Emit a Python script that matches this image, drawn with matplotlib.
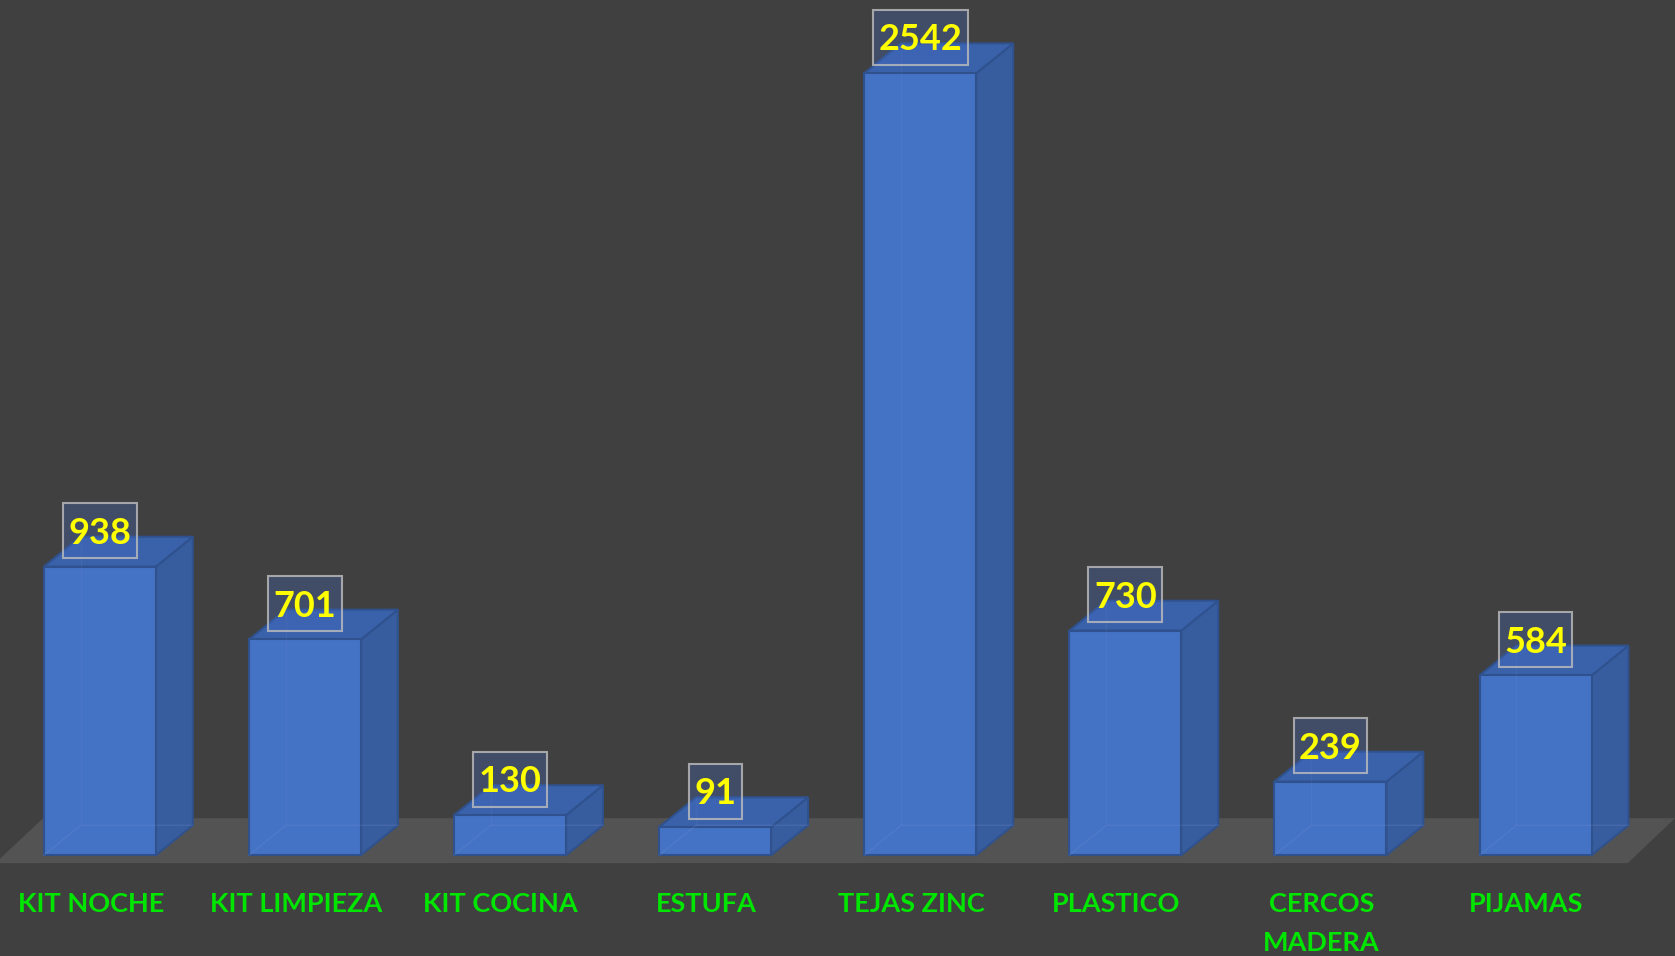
import numpy as np
import matplotlib
matplotlib.use("Agg")
import matplotlib.pyplot as plt
from matplotlib.patches import Polygon, Rectangle
from matplotlib.transforms import IdentityTransform

plt.rcParams['font.family'] = ['Lato', 'DejaVu Sans']

categories = ['KIT NOCHE', 'KIT LIMPIEZA', 'KIT COCINA', 'ESTUFA',
              'TEJAS ZINC', 'PLASTICO', 'CERCOS\nMADERA', 'PIJAMAS']
values = [938, 701, 130, 91, 2542, 730, 239, 584]

BG = '#404040'
FLOOR = '#535353'
FRONT = '#4472C4'
SIDE = '#385D9E'
TOP = '#3A62AB'
EDGE = '#2F528F'

# bar geometry (index units / data units)
width = 0.546
dx, dy = 0.18, 97


def draw_bar3d(ax, x, v):
    xl, xr = x - width / 2, x + width / 2
    # faint hidden edges (bars are a bit see-through)
    ax.plot([xl, xl + dx, xr + dx], [0, dy, dy], color='#7f9fdc', lw=1, alpha=0.18, zorder=4)
    ax.plot([xl + dx, xl + dx], [dy, v + dy], color='#7f9fdc', lw=1, alpha=0.1, zorder=4)
    side = Polygon([(xr, 0), (xr + dx, dy), (xr + dx, v + dy), (xr, v)],
                   closed=True, facecolor=SIDE, edgecolor=EDGE, lw=1.5, zorder=2)
    top = Polygon([(xl, v), (xr, v), (xr + dx, v + dy), (xl + dx, v + dy)],
                  closed=True, facecolor=TOP, edgecolor=EDGE, lw=1.5, zorder=2)
    ax.add_patch(side)
    ax.add_patch(top)


fig = plt.figure(figsize=(16.75, 9.56), dpi=100, facecolor=BG)
ax = fig.add_axes([0, 0, 1, 1])
ax.set_facecolor(BG)
ax.set_xlim(-0.487, 7.68)
ax.set_ylim(-328, 2780)
ax.axis('off')

# floor
floor = Polygon([(-0.51, -26), (7.45, -26), (7.68, 120), (-0.277, 120)],
                closed=True, facecolor=FLOOR, edgecolor='none', zorder=1)
ax.add_patch(floor)

x = np.arange(len(categories))
ax.bar(x, values, width=width, color=FRONT, edgecolor=EDGE, linewidth=1.5, zorder=3)

labels = []
for xi, v, name in zip(x, values, categories):
    draw_bar3d(ax, xi, v)
    # baseline placed so the digits sit centred in the label box
    t = ax.text(xi, v + 74, str(v), ha='center', va='baseline', fontsize=26,
                fontweight='bold', color='#FFFF00', zorder=6)
    labels.append((t, xi, v))
    ax.text(xi - 0.045, -121, name, ha='center', va='top',
            fontsize=19.5, fontweight='bold', color='#00E600', linespacing=1.75, zorder=6)

# label boxes sized from the rendered text
fig.canvas.draw()
r = fig.canvas.get_renderer()
for t, xi, v in labels:
    bb = t.get_window_extent(r)
    cx, cy = ax.transData.transform((xi, v + 116))
    w, h = bb.width + 11, 55
    ax.add_patch(Rectangle((cx - w / 2, cy - h / 2), w, h, transform=IdentityTransform(),
                           facecolor=(0.27, 0.42, 0.77, 0.3),
                           edgecolor=(0.75, 0.75, 0.75, 0.8), linewidth=1.5, zorder=5))

fig.savefig('out.png', dpi=100, facecolor=BG)
